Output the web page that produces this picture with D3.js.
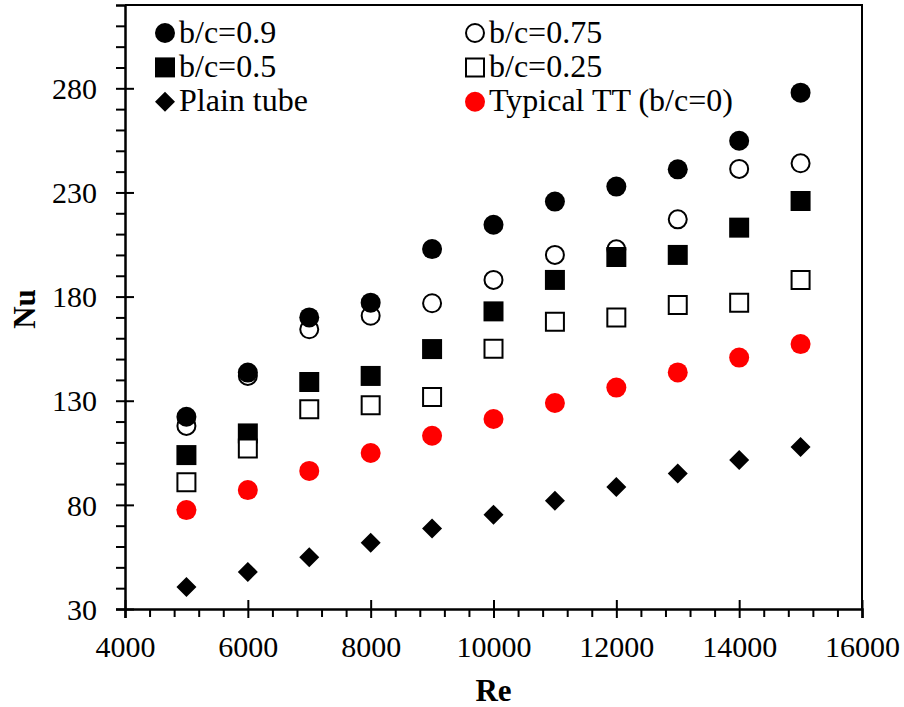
<!DOCTYPE html>
<html>
<head>
<meta charset="utf-8">
<script src="https://cdn.jsdelivr.net/npm/d3@7"></script>
<style>
    html, body { margin: 0; padding: 0; background: #fff; overflow: hidden; }
    svg { display: block; }
    svg text { font-family: "Liberation Serif", "Times New Roman", serif; fill: #000; }
</style>
</head>
<body>
<svg class="visSVG"></svg>
<script>
// data
const reValues = [5000, 6000, 7000, 8000, 9000, 10000, 11000, 12000, 13000, 14000, 15000];
const nu090 = [122.3, 143.5, 170.0, 177.1, 202.8, 214.5, 225.6, 232.8, 241.1, 254.8, 277.9];
const nu075 = [117.9, 141.9, 164.3, 170.8, 176.8, 188.0, 200.0, 202.7, 217.1, 241.3, 244.0];
const nu050 = [103.9, 114.3, 139.0, 141.9, 154.8, 172.9, 188.0, 199.0, 200.0, 213.1, 225.9];
const nu025 = [90.8, 107.1, 125.9, 127.8, 131.8, 155.0, 167.9, 169.9, 176.0, 177.1, 188.0];
const nuTypical = [77.5, 87.1, 96.3, 104.9, 113.2, 121.2, 128.9, 136.3, 143.6, 150.7, 157.2];
const nuPlain = [40.6, 47.8, 54.8, 61.8, 68.7, 75.3, 82.0, 88.6, 95.0, 101.5, 107.8];

const xTicks = [4000, 6000, 8000, 10000, 12000, 14000, 16000];
const yTicks = [30, 80, 130, 180, 230, 280];

const svgWidth = 904;
const svgHeight = 707;
const fontFamily = '"Liberation Serif", "Times New Roman", serif';

const margin = {
    top: 5,
    right: 42,
    left: 125,
    bottom: 98
};
const innerWidth = svgWidth - margin.left - margin.right;
const innerHeight = svgHeight - margin.top - margin.bottom;

const svg = d3.select('.visSVG')
    .attr('width', svgWidth)
    .attr('height', svgHeight)
    .attr('font-family', fontFamily);

const graph = svg.append('g')
    .attr('transform', 'translate(' + margin.left + ',' + margin.top + ')');

const xScale = d3.scaleLinear().domain([4000, 16000]).range([0, innerWidth]);
const yScale = d3.scaleLinear().domain([30, 320]).range([innerHeight, 0]);

// series in draw order (later ones sit on top)
const series = [
    { name: 'b/c=0.75', values: nu075, shape: 'circle', fill: '#fff', stroke: '#000' },
    { name: 'b/c=0.9', values: nu090, shape: 'circle', fill: '#000', stroke: 'none' },
    { name: 'b/c=0.5', values: nu050, shape: 'square', fill: '#000', stroke: 'none' },
    { name: 'b/c=0.25', values: nu025, shape: 'square', fill: '#fff', stroke: '#000' },
    { name: 'Plain tube', values: nuPlain, shape: 'diamond', fill: '#000', stroke: 'none' },
    { name: 'Typical TT (b/c=0)', values: nuTypical, shape: 'circle', fill: '#ff0000', stroke: 'none' }
];

// marker paths, centred on 0,0
function markerPath(shape, r) {
    if (shape === 'circle') {
        const p = d3.path();
        p.arc(0, 0, r, 0, 2 * Math.PI);
        return p.toString();
    }
    if (shape === 'square') {
        return 'M' + (-r) + ',' + (-r) + 'H' + r + 'V' + r + 'H' + (-r) + 'Z';
    }
    return 'M0,' + (-r) + 'L' + r + ',0L0,' + r + 'L' + (-r) + ',0Z';
}

function drawMarker(sel, s) {
    const isOpen = s.stroke !== 'none';
    const r = isOpen ? 9 : 10;
    sel.attr('d', markerPath(s.shape, r))
        .attr('fill', s.fill)
        .attr('stroke', s.stroke)
        .attr('stroke-width', isOpen ? 2 : 0);
}

function styleText(sel, size) {
    sel.style('font-family', fontFamily).style('font-size', (size || 30) + 'px').attr('fill', '#000');
}

// FRAME (top and right sides)
graph.append('path')
    .attr('d', 'M0,0H' + innerWidth + 'V' + innerHeight)
    .attr('fill', 'none')
    .attr('stroke', '#000')
    .attr('stroke-width', 2);

// X AXIS
const xMinor = d3.range(4000, 16001, 400).filter(v => v % 2000 !== 0);
graph.append('g')
    .attr('transform', 'translate(0,' + innerHeight + ')')
    .call(d3.axisBottom(xScale).tickValues(xMinor).tickSize(8).tickFormat(''))
    .call(g => g.select('.domain').remove())
    .call(g => g.selectAll('line').attr('stroke-width', 2));

const xAxis = graph.append('g')
    .attr('transform', 'translate(0,' + innerHeight + ')')
    .call(d3.axisBottom(xScale).tickValues(xTicks).tickSize(9).tickPadding(18).tickFormat(d3.format('d')))
    .attr('font-family', null)
    .attr('font-size', null);
xAxis.selectAll('.tick line').attr('y1', -9).attr('stroke-width', 2);
xAxis.select('.domain').attr('stroke-width', 2.5);
xAxis.selectAll('.tick text').call(styleText, 30);

// Y AXIS
const yMinor = d3.range(30, 320, 10).filter(v => (v - 30) % 50 !== 0);
graph.append('g')
    .call(d3.axisLeft(yScale).tickValues(yMinor).tickSize(9).tickFormat(''))
    .call(g => g.select('.domain').remove())
    .call(g => g.selectAll('line').attr('stroke-width', 2));

const yAxis = graph.append('g')
    .call(d3.axisLeft(yScale).tickValues(yTicks).tickSize(9).tickPadding(19).tickFormat(d3.format('d')))
    .attr('font-family', null)
    .attr('font-size', null);
yAxis.selectAll('.tick line').attr('x1', 9).attr('stroke-width', 2);
yAxis.select('.domain').attr('stroke-width', 2.5);
yAxis.selectAll('.tick text').attr('dy', '0.34em').call(styleText, 30);

graph.append('text')
    .attr('x', innerWidth / 2)
    .attr('y', innerHeight + 92)
    .attr('text-anchor', 'middle')
    .call(styleText, 31)
    .style('font-weight', 'bold')
    .text('Re');

graph.append('text')
    .attr('transform', 'rotate(-90)')
    .attr('x', -(innerHeight / 2 + 2))
    .attr('y', -90)
    .attr('text-anchor', 'middle')
    .call(styleText, 31)
    .style('font-weight', 'bold')
    .text('Nu');

// POINTS
series.forEach(function (s) {
    graph.append('g')
        .selectAll('path')
        .data(s.values.map((v, i) => ({ re: reValues[i], nu: v })))
        .enter().append('path')
            .attr('transform', d => 'translate(' + xScale(d.re) + ',' + yScale(d.nu) + ')')
            .each(function () { drawMarker(d3.select(this), s); });
});

// LEGEND
const legendOrder = ['b/c=0.9', 'b/c=0.75', 'b/c=0.5', 'b/c=0.25', 'Plain tube', 'Typical TT (b/c=0)'];
const legend = svg.append('g');
legendOrder.forEach(function (name, i) {
    const s = series.find(d => d.name === name);
    const col = i % 2;
    const row = Math.floor(i / 2);
    const g = legend.append('g')
        .attr('transform', 'translate(' + (col === 0 ? 165 : 475) + ',' + (33 + row * 34.4) + ')');
    g.append('path').call(drawMarker, s);
    g.append('text')
        .attr('x', 14)
        .attr('dy', '0.3em')
        .call(styleText, 32)
        .text(name);
});
</script>
</body>
</html>
